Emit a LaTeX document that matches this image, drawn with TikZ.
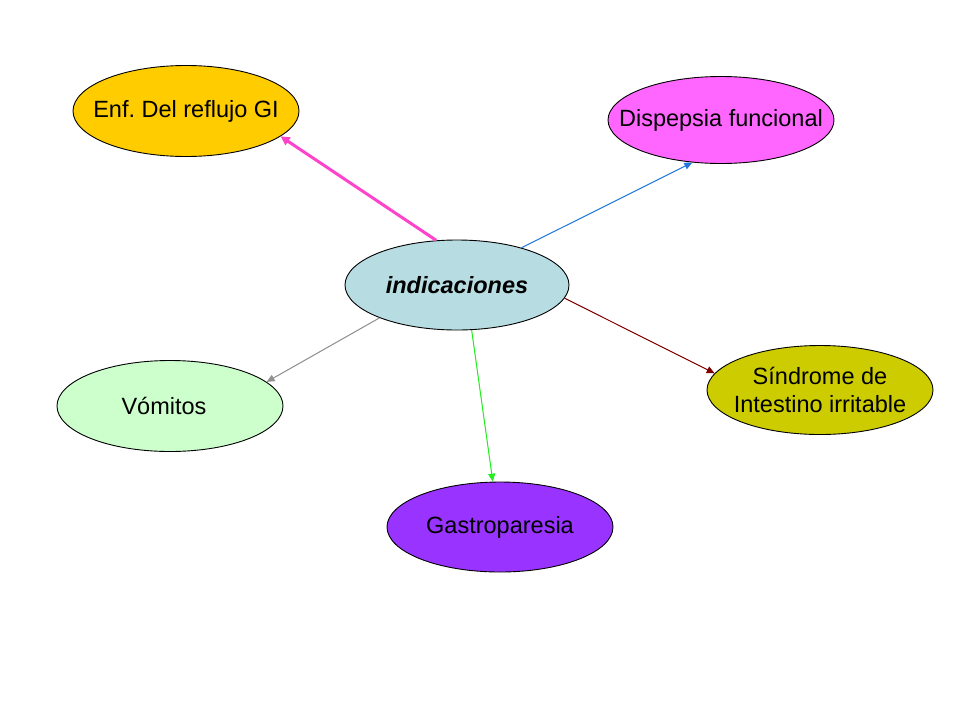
\documentclass[tikz,border=0pt]{standalone}
\usepackage{fontspec}
\setmainfont{Liberation Sans}
\usetikzlibrary{arrows.meta,shapes.geometric}
\definecolor{cEnf}{HTML}{FFCC00}
\definecolor{cDis}{HTML}{FF66FF}
\definecolor{cInd}{HTML}{B7DDE3}
\definecolor{cSin}{HTML}{CCCC00}
\definecolor{cVom}{HTML}{CCFFCC}
\definecolor{cGas}{HTML}{9933FF}
\definecolor{lPink}{HTML}{FF44CC}
\definecolor{lBlue}{HTML}{2277DD}
\definecolor{lRed}{HTML}{800000}
\definecolor{lGray}{HTML}{909090}
\definecolor{lGreen}{HTML}{22EE22}
\frenchspacing
\begin{document}
\begin{tikzpicture}[x=1pt,y=-1pt,
  bubble/.style={ellipse,draw=black,line width=0.9pt,inner sep=0pt,
    minimum width=226pt,minimum height=91pt},
  txt/.style={align=center,inner sep=0pt,font=\fontsize{23.5}{28}\selectfont},
  conn/.style={line width=1pt,-{Triangle[length=8pt,width=7pt]}},
  thick conn/.style={line width=3pt,-{Triangle[length=9pt,width=9pt]}}]
\useasboundingbox[fill=white] (0,0) rectangle (960,720);
\node[bubble,fill=cEnf] (enf) at (186,111) {};
\node[txt] (enfT) at (enf.center) {Enf. Del reflujo GI};
\node[bubble,fill=cDis,minimum height=87pt] (dis) at (721,120) {};
\node[txt] (disT) at (dis.center) {Dispepsia funcional};
\node[bubble,fill=cInd,minimum width=224pt,minimum height=90pt] (ind) at (457,285) {};
\node[txt,font=\fontsize{23.5}{28}\selectfont\bfseries\itshape] (indT) at (ind.center) {indicaciones};
\node[bubble,fill=cSin,minimum height=89pt] (sin) at (820,390) {};
\node[txt] (sinT) at (sin.center) {Síndrome de\\Intestino irritable};
\node[bubble,fill=cVom] (vom) at (170,406) {};
\node[txt] (vomT) at ([xshift=-6pt]vom.center) {Vómitos};
\node[bubble,fill=cGas,minimum height=90pt] (gas) at (500,527) {};
\node[txt] (gasT) at (gas.center) {Gastroparesia};
\draw[thick conn,draw=lPink,fill=lPink] (ind.115) -- (enf.-15);
\draw[conn,draw=lBlue,fill=lBlue] (ind.30) -- (dis.236);
\draw[conn,draw=lRed,fill=lRed] (ind.-7) -- (sin.171);
\draw[conn,draw=lGray,fill=lGray] (ind.203) -- (vom.14);
\draw[conn,draw=lGreen,fill=lGreen] (ind.288) -- (gas.99);
\end{tikzpicture}
\end{document}
